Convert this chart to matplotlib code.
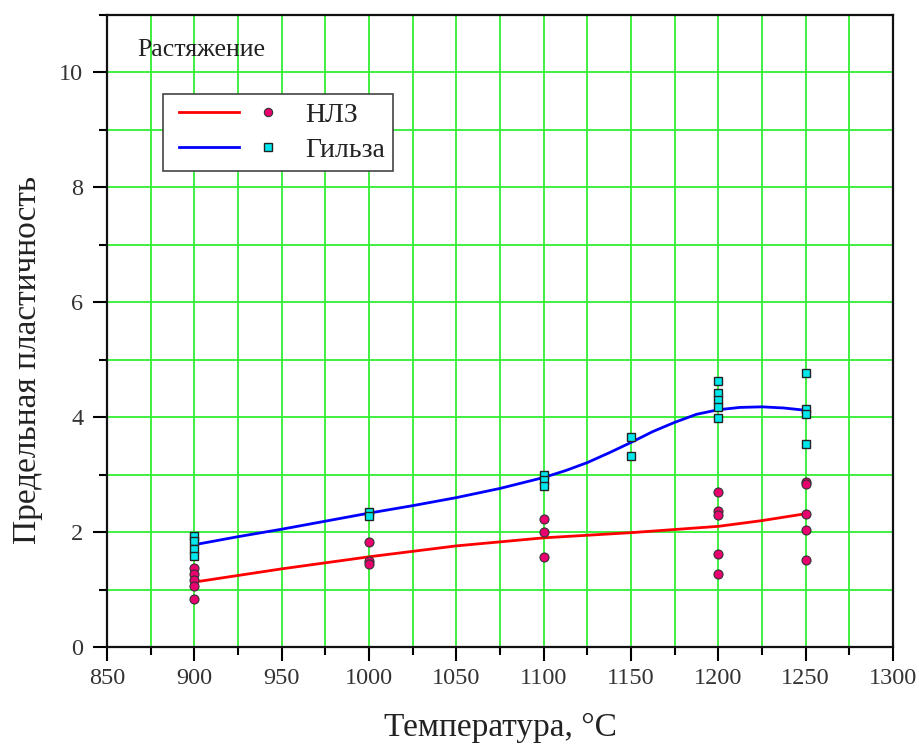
import matplotlib
matplotlib.use("Agg")
import matplotlib.pyplot as plt
from matplotlib.lines import Line2D
from matplotlib.legend_handler import HandlerTuple
from matplotlib.ticker import MultipleLocator

plt.rcParams['font.family'] = ['Liberation Serif', 'DejaVu Serif']

# --- data ---
nlz_T = [900, 900, 900, 900, 900,
         1000, 1000, 1000,
         1100, 1100, 1100,
         1200, 1200, 1200, 1200, 1200,
         1250, 1250, 1250, 1250, 1250]
nlz_v = [1.37, 1.27, 1.17, 1.07, 0.83,
         1.83, 1.50, 1.44,
         2.23, 2.00, 1.57,
         2.69, 2.37, 2.30, 1.62, 1.27,
         2.87, 2.83, 2.31, 2.03, 1.51]

sleeve_T = [900, 900, 900, 900,
            1000, 1000,
            1100, 1100, 1100,
            1150, 1150,
            1200, 1200, 1200, 1200, 1200,
            1250, 1250, 1250, 1250]
sleeve_v = [1.94, 1.84, 1.70, 1.58,
            2.35, 2.28,
            2.99, 2.90, 2.80,
            3.65, 3.33,
            4.63, 4.42, 4.30, 4.18, 3.98,
            4.77, 4.15, 4.06, 3.54]

nlz_fit_T = [900, 950, 1000, 1050, 1100, 1150, 1200, 1225, 1250]
nlz_fit_v = [1.13, 1.36, 1.57, 1.76, 1.90, 1.99, 2.10, 2.20, 2.32]

sleeve_fit_T = [900, 925, 950, 975, 1000, 1025, 1050, 1075, 1100, 1112.5, 1125, 1137.5,
                1150, 1162.5, 1175, 1187.5, 1200, 1212.5, 1225, 1237.5, 1250]
sleeve_fit_v = [1.78, 1.92, 2.05, 2.19, 2.33, 2.46, 2.60, 2.76, 2.95, 3.07, 3.21, 3.38,
                3.56, 3.75, 3.91, 4.05, 4.13, 4.17, 4.18, 4.16, 4.12]

labels = ['НЛЗ', 'Гильза']
x_label = 'Температура, °C'
y_label = 'Предельная пластичность'
note = 'Растяжение'


class ShiftedTuple(HandlerTuple):
    """Tuple handler with a small left inset inside the handle box."""
    def __init__(self, inset=6, trim=8, **kw):
        super().__init__(**kw)
        self.inset = inset
        self.trim = trim

    def create_artists(self, legend, orig_handle, xdescent, ydescent, width, height,
                       fontsize, trans):
        return super().create_artists(legend, orig_handle, xdescent - self.inset, ydescent,
                                      width - self.trim, height, fontsize, trans)


fig = plt.figure(figsize=(9.2, 7.46), dpi=100)
ax = fig.add_axes([107/920, 99/746, 786/920, 632/746])

red = '#ff0000'
blue = '#0000ff'
mag = '#e8006e'
cyan = '#00e8ee'

ax.plot(nlz_fit_T, nlz_fit_v, color=red, lw=2, zorder=3)
ax.plot(sleeve_fit_T, sleeve_fit_v, color=blue, lw=2, zorder=3)
ax.plot(nlz_T, nlz_v, 'o', ms=6.5, mfc=mag, mec='#333333', mew=0.8, ls='none', zorder=4)
ax.plot(sleeve_T, sleeve_v, 's', ms=6, mfc=cyan, mec='#222222', mew=1.0, ls='none', zorder=4)

ax.set_xlim(850, 1300)
ax.set_ylim(0, 11)
ax.xaxis.set_major_locator(MultipleLocator(50))
ax.xaxis.set_minor_locator(MultipleLocator(25))
ax.yaxis.set_minor_locator(MultipleLocator(1))
ax.set_yticks([0, 2, 4, 6, 8, 10])

ax.grid(True, which='both', color='#33ee33', lw=1.3, zorder=0)
ax.set_axisbelow(True)

ax.tick_params(which='major', direction='out', length=10, width=1.5, labelsize=17.5,
               labelcolor='#333333')
ax.tick_params(which='minor', direction='out', length=6, width=1.5)
ax.tick_params(axis='y', which='major', pad=7)
ax.tick_params(axis='x', which='major', pad=5)
for s in ax.spines.values():
    s.set_linewidth(1.6)
    s.set_color('#111111')

ax.set_xlabel(x_label, fontsize=24, color='#222222', labelpad=17)
ax.set_ylabel(y_label, fontsize=24, color='#222222')
ax.yaxis.set_label_coords(-0.081, 0.454)

ax.text(0.038, 0.945, note, transform=ax.transAxes, fontsize=18.5, color='#222222',
        va='center', ha='left')

h1 = (Line2D([], [], color=red, lw=2),
      Line2D([], [], marker='o', ls='none', ms=6, mfc=mag, mec='#333333', mew=0.8))
h2 = (Line2D([], [], color=blue, lw=2),
      Line2D([], [], marker='s', ls='none', ms=5.5, mfc=cyan, mec='#222222', mew=1.0))
leg = ax.legend([h1, h2], labels,
                handler_map={tuple: ShiftedTuple(inset=6, trim=8, ndivide=None, pad=0)},
                loc='upper left', bbox_to_anchor=(0.071, 0.875), borderaxespad=0,
                fontsize=20, handlelength=4.67, handletextpad=0.15, labelspacing=0.35,
                fancybox=False, framealpha=1, edgecolor='#444444', borderpad=0.3)
leg.get_frame().set_linewidth(1.2)
for t in leg.get_texts():
    t.set_color('#222222')

fig.savefig('out.png', dpi=100)
